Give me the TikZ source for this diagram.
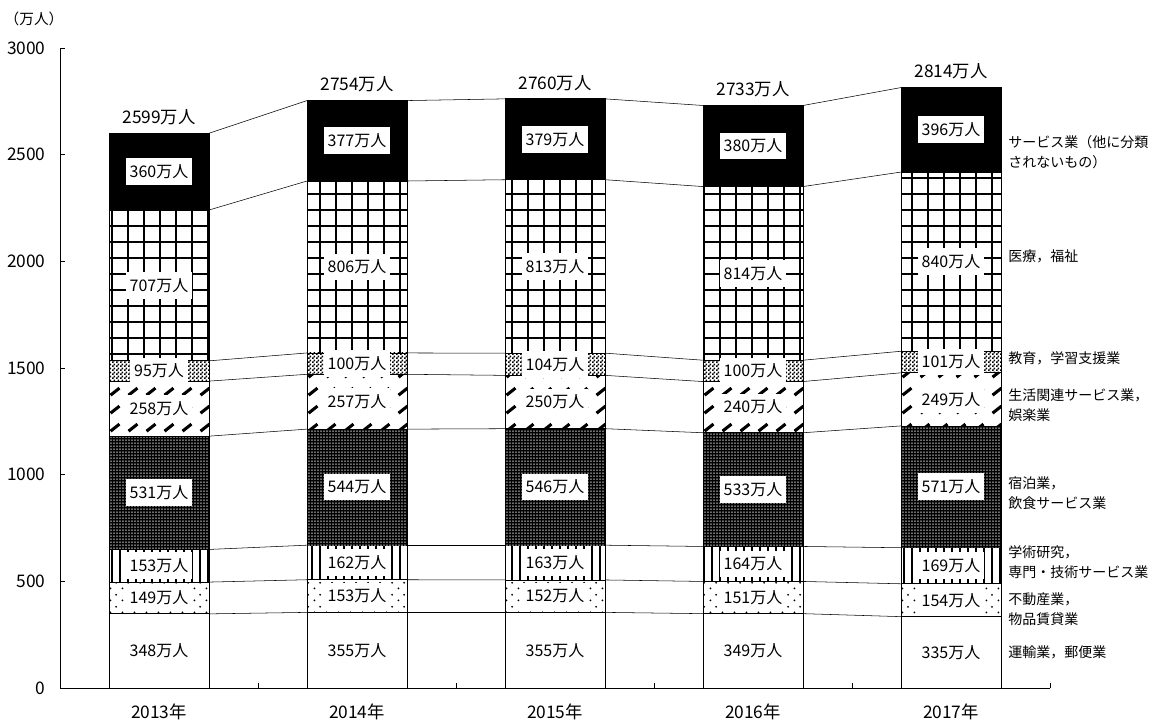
\documentclass[tikz,border=0pt]{standalone}
\usepackage{fontspec}
\setmainfont{Noto Sans CJK JP}
\usepackage{tikz}
\usetikzlibrary{positioning}
\usetikzlibrary{patterns.meta}
\usetikzlibrary{backgrounds}

\pgfdeclarepatternformonly{sparsedots}{\pgfpointorigin}{\pgfqpoint{9pt}{9pt}}{\pgfqpoint{9pt}{9pt}}{%
  \pgfpathcircle{\pgfqpoint{2pt}{2pt}}{0.8pt}%
  \pgfpathcircle{\pgfqpoint{6.5pt}{6.5pt}}{0.8pt}%
  \pgfusepath{fill}}
\pgfdeclarepatternformonly{slashes}{\pgfpointorigin}{\pgfqpoint{13.5pt}{13.5pt}}{\pgfqpoint{13.5pt}{13.5pt}}{%
  \pgfsetlinewidth{2.4pt}%
  \pgfpathmoveto{\pgfqpoint{2pt}{3pt}}%
  \pgfpathlineto{\pgfqpoint{9pt}{8.5pt}}%
  \pgfusepath{stroke}}
\pgfdeclarepatternformonly{checker}{\pgfpointorigin}{\pgfqpoint{3pt}{3pt}}{\pgfqpoint{3pt}{3pt}}{%
  \pgfpathrectangle{\pgfpointorigin}{\pgfqpoint{1.5pt}{1.5pt}}%
  \pgfpathrectangle{\pgfqpoint{1.5pt}{1.5pt}}{\pgfqpoint{1.5pt}{1.5pt}}%
  \pgfusepath{fill}}

\tikzset{
  seg1/.style={draw=black, line width=0.6pt, fill=white},
  seg2/.style={draw=black, line width=0.6pt, pattern=sparsedots},
  seg3/.style={draw=black, line width=0.6pt, pattern={Lines[angle=90,distance=6pt,line width=1.5pt]}},
  seg4/.style={draw=black, line width=0.6pt, fill=black, postaction={pattern={Dots[distance=2.25pt,radius=0.55pt]}, pattern color=white}},
  seg5/.style={draw=black, line width=0.6pt, pattern=slashes},
  seg6/.style={draw=black, line width=0.6pt, pattern=checker},
  seg7/.style={draw=black, line width=0.6pt, pattern={Hatch[angle=0,distance=12pt,line width=1.5pt]}},
  seg8/.style={draw=black, line width=0.6pt, fill=black},
  val/.style={fill=white, inner xsep=3pt, minimum height=20pt, font=\fontsize{12}{12}\selectfont},
  tot/.style={inner sep=0pt, font=\fontsize{13}{13}\selectfont},
  lgd/.style={anchor=west, align=left, inner sep=0pt, font=\fontsize{10.5}{15}\selectfont},
}

\begin{document}
\begin{tikzpicture}[x=0.75pt, y=0.16pt, line width=0.75pt]
\useasboundingbox (-60,-159.4) rectangle (1100,3225.5);
% axes
\draw (0,0) -- (0,3000);
\draw (0,0) -- (990,0);
\foreach \y in {0,500,...,3000} {
\draw (0,\y) -- (5,\y);
\node[anchor=east, inner sep=0pt, font=\fontsize{13}{13}\selectfont] (yl\y) at (-14,\y) {\y};
}
\foreach \x in {198,396,594,792,990} \draw (\x,0) -- (\x,23);
\node[font=\fontsize{11}{11}\selectfont] (unit) at (-26,3135) {（万人）};
% bars
\foreach \yr/\tot/\vals [count=\i] in {2013/2599/{348,149,153,531,258,95,707,360},
  2014/2754/{355,153,162,544,257,100,806,377},
  2015/2760/{355,152,163,546,250,104,813,379},
  2016/2733/{349,151,164,533,240,100,814,380},
  2017/2814/{335,154,169,571,249,101,840,396}} {
\pgfmathsetmacro\cx{99+198*(\i-1)}
\gdef\segbase{0}
\foreach \val [count=\j] in \vals {
\pgfmathsetmacro\segtop{\segbase+\val}
\begin{pgfonlayer}{background}
\draw[seg\j] (\cx-50,\segbase) rectangle (\cx+50,\segtop);
\end{pgfonlayer}
\coordinate (l\i-\j) at (\cx-50,\segtop);
\coordinate (r\i-\j) at (\cx+50,\segtop);
\node[val] (v\i-\j) at (\cx,{(\segbase+\segtop)/2}) {{\val}万人};
\xdef\segbase{\segtop}
}
\coordinate (c\i) at (\cx,\segbase);
\node[tot, above=6pt of c\i] (t\i) {{\tot}万人};
\node[font=\fontsize{13}{13}\selectfont] (yr\i) at (\cx,-112) {{\yr}年};
}
% connectors
\foreach \i [evaluate=\i as \k using int(\i+1)] in {1,...,4}
\foreach \j in {1,...,8} \draw (r\i-\j) -- (l\k-\j);
% legend
\node[lgd] (lg8) at (948,2510) {サービス業（他に分類\\されないもの）};
\node[lgd] (lg7) at (948,2025) {医療，福祉};
\node[lgd] (lg6) at (948,1547) {教育，学習支援業};
\node[lgd] (lg5) at (948,1324) {生活関連サービス業，\\娯楽業};
\node[lgd] (lg4) at (948,914) {宿泊業，\\飲食サービス業};
\node[lgd] (lg3) at (948,591) {学術研究，\\専門・技術サービス業};
\node[lgd] (lg2) at (948,370) {不動産業，\\物品賃貸業};
\node[lgd] (lg1) at (948,169) {運輸業，郵便業};
\end{tikzpicture}
\end{document}
